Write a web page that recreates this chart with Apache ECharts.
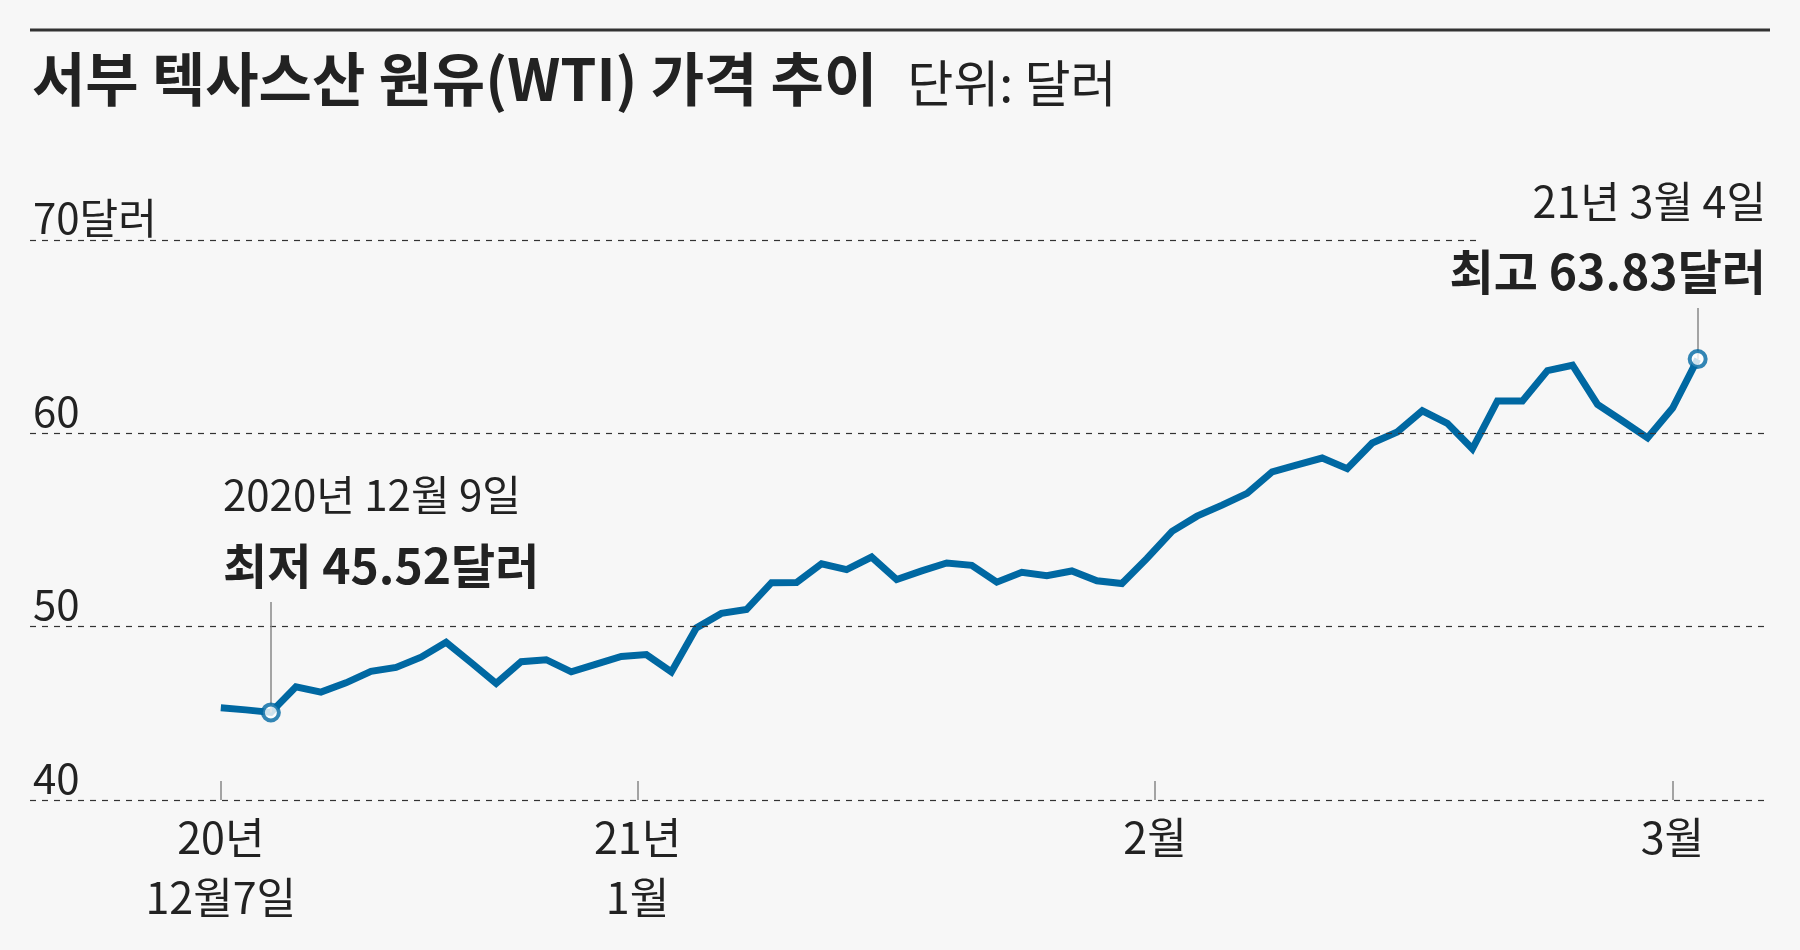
<!DOCTYPE html>
<html>
<head>
<meta charset="utf-8">
<script src="https://cdn.jsdelivr.net/npm/echarts@6/dist/echarts.min.js"></script>
<style>
html,body{margin:0;padding:0;background:#f7f7f7;}
#chart{width:1800px;height:950px;}
</style>
</head>
<body>
<div id="chart"></div>
<script>
// ---- data (WTI closing price, USD, trading days) ----
const dates = [
  '2020-12-07','2020-12-08','2020-12-09','2020-12-10','2020-12-11','2020-12-14','2020-12-15','2020-12-16','2020-12-17','2020-12-18',
  '2020-12-21','2020-12-22','2020-12-23','2020-12-24','2020-12-28','2020-12-29','2020-12-30','2020-12-31',
  '2021-01-04','2021-01-05','2021-01-06','2021-01-07','2021-01-08','2021-01-11','2021-01-12','2021-01-13','2021-01-14','2021-01-15',
  '2021-01-19','2021-01-20','2021-01-21','2021-01-22','2021-01-25','2021-01-26','2021-01-27','2021-01-28','2021-01-29',
  '2021-02-01','2021-02-02','2021-02-03','2021-02-04','2021-02-05','2021-02-08','2021-02-09','2021-02-10','2021-02-11','2021-02-12',
  '2021-02-16','2021-02-17','2021-02-18','2021-02-19','2021-02-22','2021-02-23','2021-02-24','2021-02-25','2021-02-26',
  '2021-03-01','2021-03-02','2021-03-03','2021-03-04'
];
const prices = [
  45.76, 45.65, 45.52, 46.85, 46.57, 47.05, 47.65, 47.85, 48.38, 49.15,
  48.10, 47.02, 48.15, 48.25, 47.62, 48.02, 48.42, 48.52,
  47.62, 49.90, 50.65, 50.85, 52.24, 52.25, 53.22, 52.92, 53.57, 52.40,
  52.85, 53.26, 53.14, 52.27, 52.78, 52.60, 52.85, 52.34, 52.20,
  53.50, 54.90, 55.69, 56.26, 56.87, 57.98, 58.35, 58.70, 58.15, 59.48,
  60.05, 61.15, 60.50, 59.18, 61.66, 61.66, 63.23, 63.51, 61.48,
  60.62, 59.75, 61.29, 63.83
];
// x-axis ticks (in trading-day index units) and their labels
const xTickAt = [0, 16.65, 37.32, 57.99];
const xTickLabels = ['20년\n12월7일', '21년\n1월', '2월', '3월'];
// y reference lines and labels
const yBase = 40.98;
const yBaseLabel = '40';
const yGridValues = [50, 60, 70];
const yGridLabels = ['50', '60', '70달러'];
// texts
const titleText = '서부 텍사스산 원유(WTI) 가격 추이';
const unitText = '단위: 달러';
const lowDateText = '2020년 12월 9일';
const lowValueText = '최저 45.52달러';
const highDateText = '21년 3월 4일';
const highValueText = '최고 63.83달러';

// ---- build ----
const FONT = "'Noto Sans CJK KR', sans-serif";
const BLUE = '#0068a2';
const TXT = '#222222';
const seriesData = prices.map((v, i) => [i, v]);
let lowIdx = 0, highIdx = 0;
prices.forEach((v, i) => { if (v < prices[lowIdx]) lowIdx = i; if (v > prices[highIdx]) highIdx = i; });

const dashStyle = { color: '#333', width: 1.2, type: [6, 6] };
const gridMarkData = [];
gridMarkData.push({ yAxis: yBase, label: { formatter: yBaseLabel } });
yGridValues.forEach((v, k) => {
  if (k === yGridValues.length - 1) {
    gridMarkData.push([
      { coord: [-7.623, v], label: { formatter: yGridLabels[k] } },
      { coord: [50.15, v] }
    ]);
  } else {
    gridMarkData.push({ yAxis: v, label: { formatter: yGridLabels[k] } });
  }
});

const chart = echarts.init(document.getElementById('chart'), null, { renderer: 'canvas' });
chart.setOption({
  animation: false,
  backgroundColor: '#f7f7f7',
  grid: { left: 30, right: 30, top: 240, bottom: 150 },
  xAxis: {
    type: 'value',
    min: -7.623,
    max: 61.89,
    splitLine: { show: false },
    axisLine: { show: false },
    axisTick: {
      show: true, inside: true, length: 19,
      customValues: xTickAt,
      lineStyle: { color: '#888', width: 1.5 }
    },
    axisLabel: {
      show: true,
      customValues: xTickAt,
      formatter: (v) => { const k = xTickAt.indexOf(v); return k >= 0 ? xTickLabels[k] : ''; },
      fontFamily: FONT, fontSize: 43, color: TXT, lineHeight: 60, margin: 8
    }
  },
  yAxis: {
    type: 'value', min: yBase, max: 70,
    show: false, splitLine: { show: false }
  },
  series: [
    {
      type: 'line',
      data: [],
      silent: true,
      markLine: {
        silent: true,
        symbol: ['none', 'none'],
        lineStyle: dashStyle,
        label: {
          position: 'insideStartTop',
          distance: [3, 1],
          fontFamily: FONT, fontSize: 42, color: TXT
        },
        data: gridMarkData
      }
    },
    {
      type: 'line',
      data: seriesData,
      showSymbol: false,
      symbol: 'none',
      lineStyle: { color: BLUE, width: 7, join: 'miter' },
      z: 3,
      markLine: {
        silent: true,
        symbol: ['none', 'none'],
        label: { show: false },
        lineStyle: { color: '#888', width: 1.5, type: 'solid' },
        data: [
          [{ coord: [lowIdx, prices[lowIdx]] }, { coord: [lowIdx, prices[lowIdx] + 5.72] }],
          [{ coord: [highIdx, prices[highIdx]] }, { coord: [highIdx, prices[highIdx] + 2.65] }]
        ]
      }
    },
    {
      type: 'scatter',
      data: [[lowIdx, prices[lowIdx]], [highIdx, prices[highIdx]]],
      symbol: 'circle',
      symbolSize: 16,
      itemStyle: { color: '#ffffff', borderColor: BLUE, borderWidth: 4 },
      z: 10
    }
  ],
  graphic: [
    { type: 'line', shape: { x1: 30, y1: 30, x2: 1770, y2: 30 }, style: { stroke: '#333', lineWidth: 3 } },
    {
      type: 'text', x: 32, y: 108,
      style: {
        text: '{t|' + titleText + '}{u|' + unitText + '}',
        verticalAlign: 'bottom',
        rich: {
          t: { fontFamily: FONT, fontSize: 58, fontWeight: 'bold', fill: TXT, verticalAlign: 'bottom' },
          u: { fontFamily: FONT, fontSize: 50, fontWeight: 'normal', fill: TXT, padding: [0, 0, 0, 30], verticalAlign: 'bottom' }
        }
      }
    },
    { type: 'text', x: 223, y: 495, style: { text: lowDateText, fontFamily: FONT, fontSize: 42, fill: TXT, align: 'left', verticalAlign: 'middle' } },
    { type: 'text', x: 223, y: 566, style: { text: lowValueText, fontFamily: FONT, fontSize: 48, fontWeight: 'bold', fill: TXT, align: 'left', verticalAlign: 'middle' } },
    { type: 'text', x: 1766, y: 202, style: { text: highDateText, fontFamily: FONT, fontSize: 43, fill: TXT, align: 'right', verticalAlign: 'middle' } },
    { type: 'text', x: 1766, y: 272, style: { text: highValueText, fontFamily: FONT, fontSize: 48, fontWeight: 'bold', fill: TXT, align: 'right', verticalAlign: 'middle' } }
  ]
});
</script>
</body>
</html>
